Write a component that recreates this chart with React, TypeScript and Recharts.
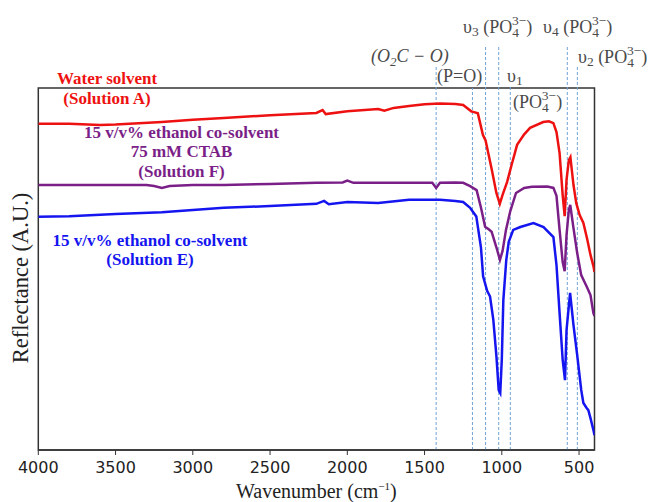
import { LineChart, Line, XAxis, YAxis, ReferenceLine, ReferenceDot, ReferenceArea } from "recharts";

type Pt = [number, number];

// wavenumber (cm-1), reflectance (A.U.)
const waterA: Pt[] = [
  [4000, 90.1], [3800, 90.1], [3600, 89.8], [3500, 89.9], [3200, 90.6], [3000, 91.2],
  [2800, 91.7], [2500, 92.5], [2200, 93.1], [2160, 93.9], [2140, 92.8], [2000, 93.6],
  [1800, 94.2], [1760, 93.7], [1700, 94.5], [1600, 95.0], [1500, 95.5], [1400, 95.7],
  [1300, 95.6], [1250, 95.3], [1196, 93.5], [1185, 93.4], [1155, 93.0], [1122, 87.0],
  [1105, 85.5], [1065, 77.5], [1035, 71.0], [1013, 68.0], [995, 70.5], [966, 74.0],
  [935, 79.0], [901, 84.3], [855, 87.2], [817, 89.0], [732, 90.6], [695, 90.8],
  [666, 90.3], [646, 87.8], [626, 82.0], [606, 70.4], [593, 64.6], [581, 74.6],
  [566, 80.1], [556, 80.9], [536, 73.2], [518, 68.2], [496, 64.9], [472, 62.7],
  [446, 58.0], [426, 53.9], [407, 50.8], [400, 49.2],
];

const ethanolCtabF: Pt[] = [
  [4000, 73.2], [3800, 73.2], [3500, 73.2], [3300, 73.2], [3250, 72.9], [3200, 72.4],
  [3150, 72.9], [3000, 73.2], [2800, 73.2], [2500, 73.5], [2200, 73.8], [2030, 73.9],
  [2000, 74.4], [1960, 73.8], [1800, 73.8], [1600, 73.8], [1450, 73.8], [1425, 72.4],
  [1400, 73.8], [1300, 73.9], [1250, 73.8], [1205, 72.9], [1163, 71.8], [1135, 67.0],
  [1108, 61.7], [1085, 61.0], [1066, 60.3], [1035, 56.0], [1012, 52.5], [995, 55.0],
  [973, 60.8], [945, 66.0], [908, 71.0], [855, 72.4], [805, 72.7], [705, 72.8],
  [666, 72.4], [646, 70.2], [626, 60.8], [606, 51.9], [593, 49.4], [581, 59.4],
  [566, 66.3], [557, 67.7], [536, 61.3], [512, 54.4], [486, 48.3], [447, 44.8],
  [426, 42.8], [407, 37.8], [400, 37.0],
];

const ethanolE: Pt[] = [
  [4000, 64.4], [3800, 64.6], [3500, 65.2], [3200, 65.7], [3000, 66.3], [2800, 66.9],
  [2500, 67.4], [2200, 68.0], [2150, 68.8], [2120, 67.9], [2000, 68.5], [1800, 68.2],
  [1600, 69.1], [1500, 69.1], [1400, 69.1], [1300, 68.8], [1250, 68.5], [1205, 66.9],
  [1185, 65.7], [1165, 64.5], [1135, 56.0], [1121, 48.0], [1095, 44.0], [1076, 42.4],
  [1055, 36.0], [1035, 26.0], [1020, 16.5], [1010, 15.7], [1000, 25.0], [990, 41.4],
  [971, 52.5], [955, 57.5], [926, 60.8], [880, 61.6], [795, 62.7], [730, 61.6],
  [666, 58.8], [646, 51.1], [626, 37.8], [606, 24.9], [591, 19.3], [581, 33.1],
  [558, 43.4], [536, 34.5], [512, 26.2], [486, 16.6], [472, 13.0], [451, 11.6],
  [440, 11.0], [426, 8.8], [407, 5.5], [400, 4.1],
];

const xTicks = [4000, 3500, 3000, 2500, 2000, 1500, 1000, 500];

// band positions and how far above the frame each guide line starts (A.U.)
const bandW = [1425, 1190, 1105, 1020, 945, 576, 511];
const bandTop = [105.8, 100, 111.9, 111.9, 100.8, 111.9, 105.8];

const RED = "#ee1111";
const PURPLE = "#7b1f88";
const BLUE = "#1515f0";
const NOTE = "#4a4a4a";
const SERIF = '"Liberation Serif", "Times New Roman", serif';
const SANS = '"DejaVu Sans", sans-serif';

const rows = (pts: Pt[]) => pts.map(([w, v]) => ({ w, v }));

const anchorOf = (p: any) => {
  const vb = p.viewBox ?? p;
  return { x: vb.x + (vb.width ?? 0) / 2, y: vb.y + (vb.height ?? 0) / 2 };
};

const seriesNote = (lines: string[], color: string) => (p: any) => {
  const { x, y } = anchorOf(p);
  return (
    <text x={x} y={y} textAnchor="middle" fill={color} fontFamily={SERIF} fontWeight="bold" fontSize={17}>
      {lines.map((s, i) => (
        <tspan key={i} x={x} dy={i === 0 ? 0 : 19.5}>
          {s}
        </tspan>
      ))}
    </text>
  );
};

// "(PO4 3-)" with stacked sub/superscript
const Po4 = () => (
  <>
    <tspan>(PO</tspan>
    <tspan fontSize={13.5} dy={4}>4</tspan>
    <tspan fontSize={13.5} dx={-7} dy={-12}>3−</tspan>
    <tspan dy={8}>)</tspan>
  </>
);

const bandNote = (kind: string) => (p: any) => {
  const { x, y } = anchorOf(p);
  const common = { x, y, fill: NOTE, fontFamily: SERIF, fontSize: 18 };
  if (kind === "co3")
    return (
      <text {...common} fontStyle="italic">
        (O<tspan fontSize={13} dy={4}>2</tspan>
        <tspan dy={-4}>C − O)</tspan>
      </text>
    );
  if (kind === "po") return <text {...common}>(P=O)</text>;
  if (kind === "po4") return <text {...common}><Po4 /></text>;
  const n = kind.slice(1);
  return (
    <text {...common}>
      υ<tspan fontSize={13.5} dy={3}>{n}</tspan>
      {kind !== "v1" && (
        <>
          <tspan dy={-3}> </tspan>
          <Po4 />
        </>
      )}
    </text>
  );
};

const notes = [
  { w: 1846, v: 107.2, kind: "co3" },
  { w: 1419, v: 101.7, kind: "po" },
  { w: 1251, v: 115.2, kind: "v3" },
  { w: 733, v: 115.2, kind: "v4" },
  { w: 507, v: 106.9, kind: "v2" },
  { w: 966, v: 101.7, kind: "v1" },
  { w: 927, v: 94.5, kind: "po4" },
];

export default function App() {
  return (
    <div style={{ position: "absolute", left: 0, top: 0, background: "#fff" }}>
      <LineChart width={654} height={502} margin={{ top: 88, right: 59.5, bottom: 0, left: 0.3 }}>
        <XAxis
          type="number"
          dataKey="w"
          domain={[400, 4000]}
          reversed
          allowDataOverflow
          ticks={xTicks}
          height={52}
          tickSize={5}
          tickMargin={7}
          axisLine={{ stroke: "#333", strokeWidth: 1.5 }}
          tickLine={{ stroke: "#333" }}
          tick={{ fill: "#222", fontFamily: SANS, fontSize: 16 }}
          label={{
            content: (p: any) => {
              const vb = p.viewBox;
              return (
                <text x={vb.x + vb.width / 2} y={vb.y + 48} textAnchor="middle" fill="#222" fontFamily={SERIF} fontSize={20}>
                  Wavenumber (cm<tspan fontSize={11} dy={-8}>−1</tspan>
                  <tspan dy={8}>)</tspan>
                </text>
              );
            },
          }}
        />
        <YAxis
          type="number"
          domain={[0, 100]}
          allowDataOverflow
          width={38}
          tick={false}
          tickLine={false}
          axisLine={false}
          label={{
            content: (p: any) => {
              const vb = p.viewBox;
              const cx = vb.x + 20;
              const cy = vb.y + 190;
              return (
                <text x={cx} y={cy} transform={`rotate(-90 ${cx} ${cy})`} textAnchor="middle" dominantBaseline="central" fill="#222" fontFamily={SERIF} fontSize={22.5}>
                  Reflectance (A.U.)
                </text>
              );
            },
          }}
        />
        <ReferenceArea x1={400} x2={4000} y1={0} y2={100} fill="none" stroke="#333" strokeWidth={1.5} ifOverflow="visible" />
        {bandW.map((w, i) => (
          <ReferenceLine
            key={w}
            segment={[{ x: w, y: 0 }, { x: w, y: bandTop[i] }]}
            stroke="#6fa3d6"
            strokeWidth={1}
            strokeDasharray="3 2"
            ifOverflow="visible"
          />
        ))}
        <Line data={rows(waterA)} dataKey="v" type="linear" stroke={RED} strokeWidth={2.5} dot={false} isAnimationActive={false} />
        <Line data={rows(ethanolCtabF)} dataKey="v" type="linear" stroke={PURPLE} strokeWidth={2.5} dot={false} isAnimationActive={false} />
        <Line data={rows(ethanolE)} dataKey="v" type="linear" stroke={BLUE} strokeWidth={2.5} dot={false} isAnimationActive={false} />
        <ReferenceDot x={3555} y={101.1} r={0} fill="none" stroke="none" ifOverflow="visible" label={{ content: seriesNote(["Water solvent", "(Solution A)"], RED) }} />
        <ReferenceDot x={3073} y={86.2} r={0} fill="none" stroke="none" ifOverflow="visible" label={{ content: seriesNote(["15 v/v% ethanol co-solvent", "75 mM CTAB", "(Solution F)"], PURPLE) }} />
        <ReferenceDot x={3277} y={56.4} r={0} fill="none" stroke="none" ifOverflow="visible" label={{ content: seriesNote(["15 v/v% ethanol co-solvent", "(Solution E)"], BLUE) }} />
        {notes.map((n) => (
          <ReferenceDot key={n.kind} x={n.w} y={n.v} r={0} fill="none" stroke="none" ifOverflow="visible" label={{ content: bandNote(n.kind) }} />
        ))}
      </LineChart>
    </div>
  );
}
